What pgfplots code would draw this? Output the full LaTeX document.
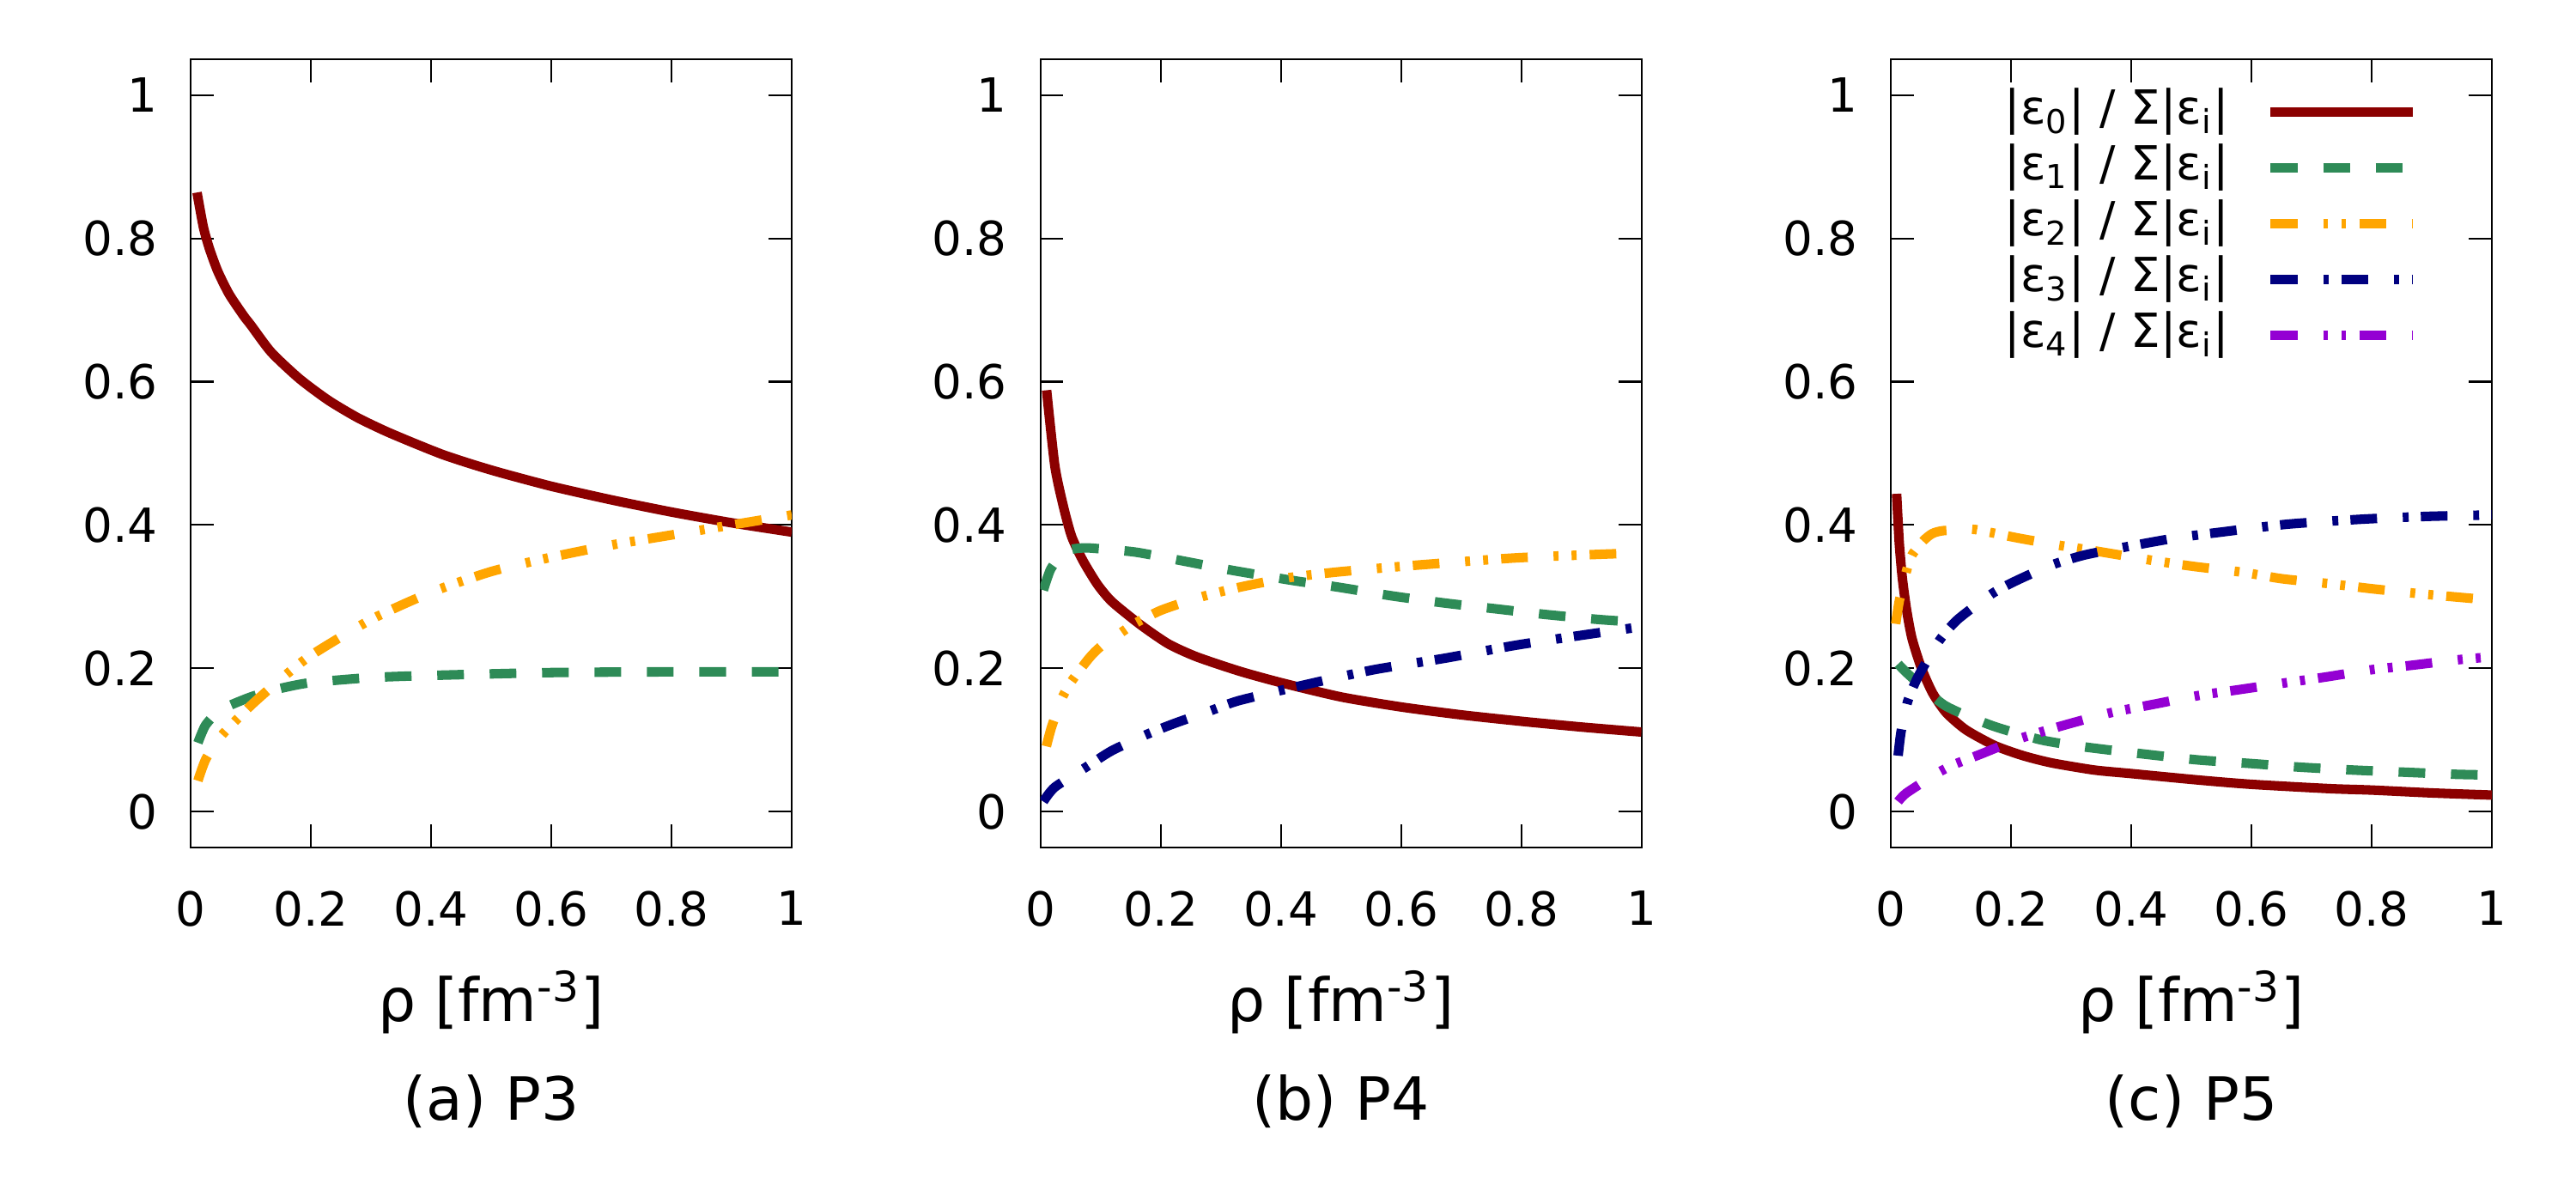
\documentclass[border=0pt]{standalone}
\usepackage{fontspec}
\setmainfont{DejaVu Sans}
\usepackage{pgfplots}
\pgfplotsset{compat=1.18}
\definecolor{cRed}{HTML}{8B0000}
\definecolor{cGreen}{HTML}{2E8B57}
\definecolor{cOrange}{HTML}{FFA500}
\definecolor{cNavy}{HTML}{000080}
\definecolor{cViolet}{HTML}{9400D3}
\pgfplotsset{
  myax/.style={
    width=133pt, height=174.4pt, scale only axis,
    anchor=south west,
    xmin=0, xmax=1, ymin=-0.05, ymax=1.05,
    xtick={0,0.2,0.4,0.6,0.8,1}, ytick={0,0.2,0.4,0.6,0.8,1},
    tick align=inside, major tick length=5.1pt,
    axis line style={line width=0.4pt}, every tick/.style={black, line width=0.4pt},
    /pgf/number format/assume math mode=true,
    xticklabel style={yshift=-6pt},
    yticklabel style={xshift=-3.7pt},
    xlabel={ρ [fm\textsuperscript{-3}]},
    xlabel style={at={(axis description cs:0.5,0)}, anchor=center, yshift=-34.2pt, font=\fontsize{13.2}{15}\selectfont},
    title style={at={(axis description cs:0.5,0)}, anchor=center, yshift=-62.2pt, font=\fontsize{13.2}{15}\selectfont},
    legend image code/.code={\draw[##1] (0pt,0pt) -- (31.4pt,0pt);},
  },
  sRed/.style={color=cRed, line width=2.1pt, solid},
  sGreen/.style={color=cGreen, line width=2.1pt, dash pattern=on 5.9pt off 5.7pt},
  sOrange/.style={color=cOrange, line width=2.1pt, dash pattern=on 5.9pt off 5.7pt on 1.1pt off 2.9pt on 1.1pt off 2.9pt},
  sNavy/.style={color=cNavy, line width=2.1pt, dash pattern=on 5.9pt off 5.7pt on 1.3pt off 2.7pt},
  sViolet/.style={color=cViolet, line width=2.1pt, dash pattern=on 5.9pt off 5.7pt on 1.1pt off 2.9pt on 1.1pt off 2.9pt},
}
\begin{document}
\fontsize{10.4}{12.5}\selectfont
\begin{tikzpicture}
\path[use as bounding box] (0pt,0pt) rectangle (570pt,266pt);
% ---------------- (a) P3
\begin{axis}[myax, at={(42.2pt,78.5pt)}, title={(a) P3}]
\addplot[sRed, smooth, tension=0.4] coordinates {
(0.0105,0.864)(0.021,0.816)(0.031,0.786)(0.045,0.754)(0.064,0.722)(0.088,0.692)(0.1,0.679)(0.134,0.641)(0.181,0.604)(0.229,0.574)(0.277,0.550)(0.324,0.531)(0.372,0.514)(0.42,0.498)(0.467,0.485)(0.515,0.473)(0.6,0.454)(0.7,0.435)(0.8,0.418)(0.9,0.403)(1.0,0.390)};
\addplot[sGreen, smooth, tension=0.4] coordinates {
(0.012,0.096)(0.025,0.121)(0.05,0.142)(0.1,0.160)(0.15,0.172)(0.2,0.180)(0.3,0.187)(0.4,0.190)(0.6,0.194)(0.8,0.195)(1.0,0.195)};
\addplot[sOrange, smooth, tension=0.4] coordinates {
(0.012,0.043)(0.025,0.073)(0.05,0.105)(0.1,0.148)(0.15,0.185)(0.2,0.218)(0.3,0.268)(0.4,0.306)(0.5,0.335)(0.6,0.355)(0.7,0.372)(0.8,0.386)(0.9,0.400)(1.0,0.414)};
\end{axis}
% ---------------- (b) P4
\begin{axis}[myax, at={(230.2pt,78.5pt)}, title={(b) P4}]
\addplot[sRed, smooth, tension=0.4] coordinates {
(0.0104,0.588)(0.024,0.483)(0.038,0.427)(0.052,0.384)(0.071,0.350)(0.095,0.317)(0.119,0.293)(0.166,0.261)(0.213,0.234)(0.26,0.216)(0.331,0.196)(0.4,0.180)(0.5,0.160)(0.6,0.146)(0.7,0.135)(0.8,0.126)(0.9,0.118)(1.0,0.111)};
\addplot[sGreen, smooth, tension=0.4] coordinates {
(0.005,0.309)(0.017,0.338)(0.035,0.358)(0.052,0.366)(0.074,0.368)(0.095,0.367)(0.159,0.362)(0.242,0.349)(0.317,0.337)(0.416,0.323)(0.497,0.313)(0.585,0.301)(0.673,0.291)(0.757,0.283)(0.841,0.275)(0.93,0.268)(1.0,0.264)};
\addplot[sOrange, smooth, tension=0.4] coordinates {
(0.01,0.091)(0.019,0.119)(0.037,0.160)(0.052,0.182)(0.081,0.214)(0.1,0.230)(0.133,0.249)(0.156,0.262)(0.201,0.281)(0.265,0.299)(0.331,0.313)(0.41,0.326)(0.49,0.334)(0.57,0.340)(0.643,0.345)(0.79,0.354)(0.93,0.359)(1.0,0.361)};
\addplot[sNavy, smooth, tension=0.4] coordinates {
(0.005,0.014)(0.024,0.034)(0.076,0.062)(0.119,0.085)(0.178,0.108)(0.223,0.123)(0.284,0.141)(0.331,0.155)(0.446,0.178)(0.555,0.198)(0.673,0.214)(0.79,0.232)(0.9,0.246)(1.0,0.258)};
\end{axis}
% ---------------- (c) P5
\begin{axis}[myax, at={(418.4pt,78.5pt)}, title={(c) P5},
  legend plot pos=right, legend cell align=right,
  legend style={draw=none, fill=none, inner sep=0pt, outer sep=0pt,
    at={(axis description cs:1,1)}, anchor=north east, xshift=-16.5pt, yshift=-5.6pt,
    row sep=0pt, column sep=8.2pt,
    nodes={inner sep=0pt, text height=8.8pt, text depth=3.55pt}},
]
\addplot[sRed, smooth, tension=0.4] coordinates {
(0.0095,0.4435)(0.014,0.374)(0.019,0.326)(0.026,0.282)(0.035,0.242)(0.05,0.202)(0.069,0.166)(0.092,0.138)(0.125,0.114)(0.173,0.092)(0.22,0.078)(0.267,0.068)(0.338,0.058)(0.4,0.053)(0.512,0.044)(0.6,0.038)(0.73,0.032)(0.8,0.030)(0.9,0.026)(1.0,0.023)};
\addlegendentry{|ε\textsubscript{0}| / Σ|ε\textsubscript{i}|}
\addplot[sGreen, smooth, tension=0.4] coordinates {
(0.012,0.206)(0.031,0.190)(0.09,0.148)(0.168,0.120)(0.25,0.100)(0.324,0.090)(0.424,0.080)(0.512,0.072)(0.6,0.067)(0.68,0.062)(0.768,0.058)(0.853,0.055)(0.94,0.052)(1.0,0.051)};
\addlegendentry{|ε\textsubscript{1}| / Σ|ε\textsubscript{i}|}
\addplot[sOrange, smooth, tension=0.4] coordinates {
(0.008,0.262)(0.014,0.294)(0.026,0.336)(0.035,0.358)(0.054,0.378)(0.069,0.388)(0.087,0.392)(0.135,0.394)(0.163,0.390)(0.21,0.382)(0.277,0.372)(0.338,0.364)(0.439,0.350)(0.505,0.342)(0.585,0.334)(0.65,0.325)(0.73,0.318)(0.8,0.311)(0.88,0.304)(0.96,0.298)(1.0,0.295)};
\addlegendentry{|ε\textsubscript{2}| / Σ|ε\textsubscript{i}|}
\addplot[sNavy, smooth, tension=0.4] coordinates {
(0.012,0.078)(0.017,0.112)(0.028,0.154)(0.045,0.188)(0.08,0.238)(0.111,0.268)(0.168,0.304)(0.208,0.322)(0.267,0.344)(0.322,0.358)(0.395,0.370)(0.475,0.382)(0.549,0.390)(0.659,0.401)(0.783,0.408)(0.893,0.412)(1.0,0.414)};
\addlegendentry{|ε\textsubscript{3}| / Σ|ε\textsubscript{i}|}
\addplot[sViolet, smooth, tension=0.4] coordinates {
(0.012,0.014)(0.026,0.026)(0.078,0.054)(0.106,0.066)(0.149,0.080)(0.215,0.102)(0.286,0.120)(0.366,0.138)(0.439,0.150)(0.512,0.162)(0.578,0.170)(0.659,0.180)(0.725,0.188)(0.8,0.198)(0.865,0.204)(0.945,0.212)(1.0,0.216)};
\addlegendentry{|ε\textsubscript{4}| / Σ|ε\textsubscript{i}|}
\end{axis}
\end{tikzpicture}
\end{document}
